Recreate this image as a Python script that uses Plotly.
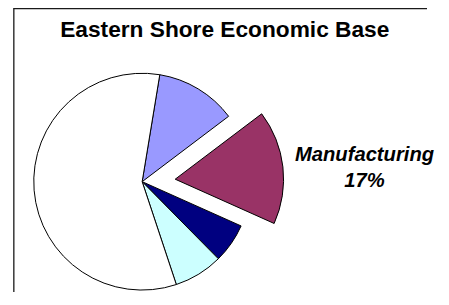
import plotly.graph_objects as go

# ---- data ----
sectors = ["Services", "Manufacturing", "Government", "Retail Trade", "Other"]
shares = [12.1, 17.0, 5.9, 7.3, 57.7]
slice_colors = ["#9999FF", "#993366", "#000080", "#CCFFFF", "#FFFFFF"]
highlight = "Manufacturing"
title_text = "Eastern Shore Economic Base"

# page body has an 8px margin on every side: size figure so no scrollbars appear
OFF = 8
W, H = 431, 287
FONT = "Liberation Sans, Arial, sans-serif"

def fx(px):
    return (px - OFF) / W

def fy(py):
    return 1 - (py - OFF) / H

def dom_x(cx, r):
    return [fx(cx - r), fx(cx + r)]

def dom_y(cy, r):
    return [max(0.0, fy(cy + r)), fy(cy - r)]

R = 111.5
main_c = (146, 183.5)
expl_c = (180, 181)

is_hl = [s == highlight for s in sectors]
TRANSPARENT = "rgba(0,0,0,0)"

fig = go.Figure()

# base pie: all slices except the exploded one
fig.add_trace(go.Pie(
    labels=sectors, values=shares, sort=False, direction="clockwise", rotation=9.35,
    marker=dict(colors=[TRANSPARENT if h else c for h, c in zip(is_hl, slice_colors)],
                line=dict(color="black", width=[0 if h else 1 for h in is_hl])),
    textinfo="none", hoverinfo="label+percent",
    domain=dict(x=dom_x(main_c[0], R), y=dom_y(main_c[1], R)),
    showlegend=False,
))

# exploded slice
fig.add_trace(go.Pie(
    labels=sectors, values=shares, sort=False, direction="clockwise", rotation=9.35,
    marker=dict(colors=[c if h else TRANSPARENT for h, c in zip(is_hl, slice_colors)],
                line=dict(color="black", width=[1 if h else 0 for h in is_hl])),
    texttemplate="%{label}<br>%{percent:.0%}",
    textposition=["outside" if h else "none" for h in is_hl],
    outsidetextfont=dict(family=FONT, size=20.2, color="black", weight="bold", style="italic"),
    hoverinfo="label+percent",
    domain=dict(x=dom_x(expl_c[0], R), y=dom_y(expl_c[1], R)),
    showlegend=False,
))

frame_line = dict(color="#1a1a1a", width=1.3)
fig.update_layout(
    width=W, height=H,
    margin=dict(l=0, r=0, t=0, b=0),
    paper_bgcolor="white",
    plot_bgcolor="white",
    title=dict(text=title_text, x=fx(231), xanchor="center", xref="paper",
               y=fy(29), yanchor="middle", yref="container",
               font=dict(family=FONT, size=22.7, color="black", weight="bold")),
    shapes=[
        dict(type="line", xref="paper", yref="paper",
             x0=fx(14), x1=fx(14), y0=0, y1=1, line=frame_line, layer="below"),
        dict(type="line", xref="paper", yref="paper",
             x0=fx(14), x1=1, y0=1 - 0.7 / H, y1=1 - 0.7 / H, line=frame_line, layer="below"),
    ],
)

fig.write_html("out.html")
